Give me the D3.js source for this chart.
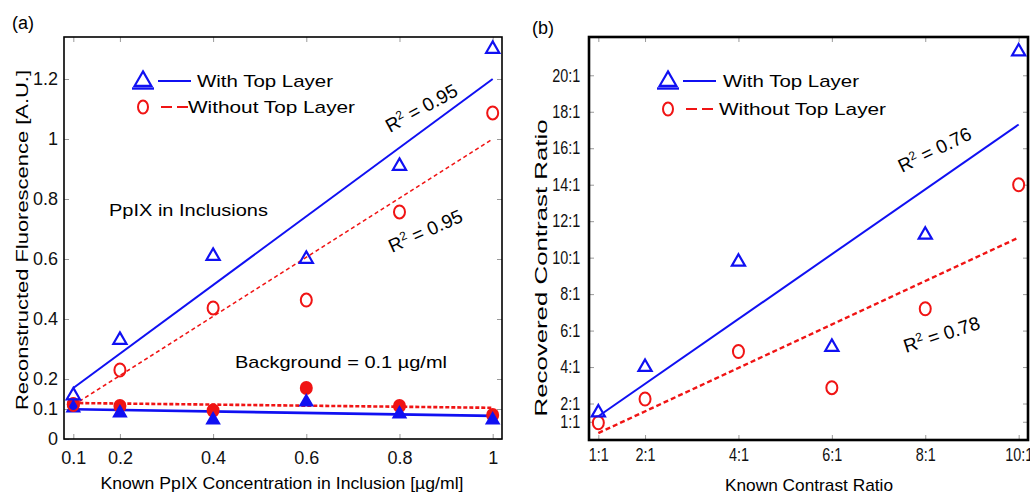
<!DOCTYPE html>
<html><head><meta charset="utf-8">
<script src="https://cdn.jsdelivr.net/npm/d3@7"></script>
<style>
body { margin: 0; background: #fff; }
svg { display: block; font-family: "Liberation Sans", Arial, sans-serif; }
.tick line { stroke: #9a9a9a; }
.tick text { font-size: 18px; fill: #111; }
.note { font-size: 17px; fill: #000; }
.r2 { font-size: 19px; fill: #000; }
</style></head><body>
<svg id="chart" width="1030" height="496"></svg>
<script>
// ── data ───────────────────────────────────────────────────────────────────
// panel (a): PpIX concentration
const concX = [0.1, 0.2, 0.4, 0.6, 0.8, 1];
const inclWith    = [0.145, 0.33, 0.61, 0.60, 0.91, 1.30];
const inclWithout = [0.115, 0.23, 0.437, 0.463, 0.757, 1.087];
const bgWith      = [0.103, 0.087, 0.063, 0.123, 0.083, 0.063];
const bgWithout   = [0.115, 0.11, 0.095, 0.17, 0.11, 0.08];
const fitInclWith    = [[0.1, 0.17], [1, 1.2]];
const fitInclWithout = [[0.1, 0.113], [1, 1.0]];
const fitBgWith      = [[0.1, 0.099], [1, 0.077]];
const fitBgWithout   = [[0.1, 0.12], [1, 0.104]];
const aXTicks = [0.1, 0.2, 0.4, 0.6, 0.8, 1];
const aYTicks = [0, 0.1, 0.2, 0.4, 0.6, 0.8, 1, 1.2];

// panel (b): contrast ratio
const ratioX = [1, 2, 4, 6, 8, 10];
const recWith    = [1.5, 4.0, 9.77, 5.1, 11.25, 21.3];
const recWithout = [0.95, 2.25, 4.85, 2.87, 7.2, 14.0];
const fitRecWith    = [[1, 1.3], [10, 17.3]];
const fitRecWithout = [[1, 0.38], [10, 11.1]];
const bXTicks = [1, 2, 4, 6, 8, 10];
const bYTicks = [1, 2, 4, 6, 8, 10, 12, 14, 16, 18, 20];

const BLUE = '#1010f2', RED = '#f01414';
const svg = d3.select('#chart');
const triSym = s => d3.symbol(d3.symbolTriangle, s)();

// ── panel builder ──────────────────────────────────────────────────────────
function panel(c) {
  const g = svg.append('g');
  const x = d3.scaleLinear().domain(c.xDomain).range([c.left, c.right]);
  const y = d3.scaleLinear().domain(c.yDomain).range([c.bottom, c.top]);

  g.append('g').attr('transform', `translate(0,${c.bottom})`)
    .call(d3.axisBottom(x).tickValues(c.xTicks).tickFormat(c.fmt).tickSizeInner(-5).tickSizeOuter(0).tickPadding(c.xPad));
  g.append('g').attr('transform', `translate(0,${c.top})`)
    .call(d3.axisTop(x).tickValues(c.xTicks).tickFormat('').tickSizeInner(-5).tickSizeOuter(0));
  g.append('g').attr('class', 'yax').attr('transform', `translate(${c.left},0)`)
    .call(d3.axisLeft(y).tickValues(c.yTicks).tickFormat(c.fmt).tickSizeInner(-5).tickSizeOuter(0).tickPadding(c.yPad));
  g.append('g').attr('transform', `translate(${c.right},0)`)
    .call(d3.axisRight(y).tickValues(c.yTicks).tickFormat('').tickSizeInner(-5).tickSizeOuter(0));
  g.selectAll('.domain').remove();
  g.selectAll('.tick text').attr('font-family', null).attr('font-size', null);
  // narrow tick labels in panel (b)
  if (c.squeeze) g.selectAll('.tick text').attr('transform', `scale(${c.squeeze},1)`);

  g.append('rect').attr('x', c.left).attr('y', c.top)
    .attr('width', c.right - c.left).attr('height', c.bottom - c.top)
    .attr('fill', 'none').attr('stroke', '#000').attr('stroke-width', c.frameW);

  const line = d3.line().x(d => x(d[0])).y(d => y(d[1]));
  c.fits.forEach(f => {
    g.append('path').attr('d', line(f.pts)).attr('fill', 'none')
      .attr('stroke', f.color).attr('stroke-width', f.w)
      .attr('stroke-dasharray', f.dash || null);
  });

  c.series.forEach(s => {
    const pts = s.xs.map((v, i) => [v, s.ys[i]]);
    if (s.type === 'circle') {
      g.selectAll(null).data(pts).join('ellipse')
        .attr('cx', d => x(d[0])).attr('cy', d => y(d[1]))
        .attr('rx', s.rx).attr('ry', s.ry)
        .attr('fill', s.filled ? s.color : 'none')
        .attr('stroke', s.color).attr('stroke-width', 2);
    } else {
      g.selectAll(null).data(pts).join('path')
        .attr('d', triSym(s.size))
        .attr('transform', d => `translate(${x(d[0])},${y(d[1])})`)
        .attr('fill', s.filled ? s.color : 'none')
        .attr('stroke', s.color).attr('stroke-width', 2.2);
    }
  });

  // legend
  const L = c.legend;
  g.append('path').attr('d', triSym(120))
    .attr('transform', `translate(${L.x},${L.y1})`)
    .attr('fill', 'none').attr('stroke', BLUE).attr('stroke-width', 2.2);
  g.append('line').attr('x1', L.x - 11).attr('x2', L.x + 11).attr('y1', L.y1 + 7.5).attr('y2', L.y1 + 7.5)
    .attr('stroke', BLUE).attr('stroke-width', 2.4);
  g.append('line').attr('x1', L.l1[0]).attr('x2', L.l1[1]).attr('y1', L.y1).attr('y2', L.y1)
    .attr('stroke', BLUE).attr('stroke-width', 2);
  g.append('text').attr('class', 'note').attr('x', L.t1).attr('y', L.y1 + 6)
    .attr('textLength', 136).attr('lengthAdjust', 'spacingAndGlyphs').text('With Top Layer');
  g.append('ellipse').attr('cx', L.x).attr('cy', L.y2).attr('rx', 5).attr('ry', 6.5)
    .attr('fill', 'none').attr('stroke', RED).attr('stroke-width', 2);
  g.append('line').attr('x1', L.l2[0]).attr('x2', L.l2[1]).attr('y1', L.y2).attr('y2', L.y2)
    .attr('stroke', RED).attr('stroke-width', 2).attr('stroke-dasharray', '11,5');
  g.append('text').attr('class', 'note').attr('x', L.t2).attr('y', L.y2 + 6)
    .attr('textLength', 167).attr('lengthAdjust', 'spacingAndGlyphs').text('Without Top Layer');

  // R² labels
  c.r2.forEach(r => {
    const t = g.append('text').attr('class', 'r2')
      .attr('transform', `translate(${r.x},${r.y}) rotate(${r.a})`);
    t.append('tspan').text('R');
    t.append('tspan').attr('font-size', 12).attr('dy', -7).text('2');
    t.append('tspan').attr('dy', 7).text(' = ' + r.v);
  });

  // axis titles
  g.append('text').attr('x', c.xt[0]).attr('y', c.xt[1]).attr('text-anchor', 'middle')
    .attr('font-size', 17).attr('textLength', c.xt[3]).attr('lengthAdjust', 'spacingAndGlyphs').text(c.xt[2]);
  g.append('text').attr('transform', `translate(${c.yt[0]},${c.yt[1]}) rotate(-90)`).attr('text-anchor', 'middle')
    .attr('font-size', 17).attr('textLength', c.yt[3]).attr('lengthAdjust', 'spacingAndGlyphs').text(c.yt[2]);
  g.append('text').attr('x', c.tag[0]).attr('y', c.tag[1]).attr('font-size', 18).text(c.tag[2]);
  return g;
}

// ── (a) ────────────────────────────────────────────────────────────────────
const ga = panel({
  left: 64, right: 502, top: 37, bottom: 439,
  xDomain: [0.08, 1.02], yDomain: [0, 1.34],
  xTicks: aXTicks, yTicks: aYTicks, fmt: d => String(d), xPad: 12, yPad: 6, frameW: 1.6,
  fits: [
    { pts: fitInclWith, color: BLUE, w: 2 },
    { pts: fitInclWithout, color: RED, w: 1.6, dash: '4,3' },
    { pts: fitBgWithout, color: RED, w: 2.6, dash: '4,2' },
    { pts: fitBgWith, color: BLUE, w: 2.6 },
  ],
  series: [
    { type: 'circle', xs: concX, ys: bgWithout, color: RED, filled: true, rx: 5.5, ry: 6 },
    { type: 'tri', xs: concX, ys: bgWith, color: BLUE, filled: true, size: 60 },
    { type: 'circle', xs: concX, ys: inclWithout, color: RED, filled: false, rx: 5.5, ry: 6.5 },
    { type: 'tri', xs: concX, ys: inclWith, color: BLUE, filled: false, size: 75 },
  ],
  legend: { x: 143, y1: 81, y2: 107, l1: [158, 191], t1: 197, l2: [161, 189], t2: 188 },
  r2: [{ x: 390, y: 133, a: -29, v: '0.95' }, { x: 392, y: 253, a: -24, v: '0.95' }],
  xt: [282, 489, 'Known PpIX Concentration in Inclusion [µg/ml]', 363],
  yt: [28, 240, 'Reconstructed Fluorescence [A.U.]', 340],
  tag: [12, 29, '(a)'],
});
ga.append('text').attr('class', 'note').attr('x', 109).attr('y', 216)
  .attr('textLength', 159).attr('lengthAdjust', 'spacingAndGlyphs').text('PpIX in Inclusions');
ga.append('text').attr('class', 'note').attr('x', 235).attr('y', 368)
  .attr('textLength', 212).attr('lengthAdjust', 'spacingAndGlyphs').text('Background = 0.1 µg/ml');

// ── (b) ────────────────────────────────────────────────────────────────────
panel({
  left: 589, right: 1028, top: 37, bottom: 440,
  xDomain: [0.8, 10.2], yDomain: [0, 22.1],
  xTicks: bXTicks, yTicks: bYTicks, fmt: d => d + ':1', xPad: 8, yPad: 11, frameW: 2.6,
  squeeze: 0.8,
  fits: [
    { pts: fitRecWith, color: BLUE, w: 2 },
    { pts: fitRecWithout, color: RED, w: 2.4, dash: '5,3' },
  ],
  series: [
    { type: 'circle', xs: ratioX, ys: recWithout, color: RED, filled: false, rx: 5.5, ry: 6.5 },
    { type: 'tri', xs: ratioX, ys: recWith, color: BLUE, filled: false, size: 75 },
  ],
  legend: { x: 668, y1: 81, y2: 109, l1: [683, 716], t1: 723, l2: [686, 713], t2: 719 },
  r2: [{ x: 902, y: 173, a: -26, v: '0.76' }, { x: 906, y: 353, a: -18, v: '0.78' }],
  xt: [809, 491, 'Known Contrast Ratio', 168],
  yt: [547, 268, 'Recovered Contrast Ratio', 297],
  tag: [532, 34, '(b)'],
});
</script>
</body></html>
